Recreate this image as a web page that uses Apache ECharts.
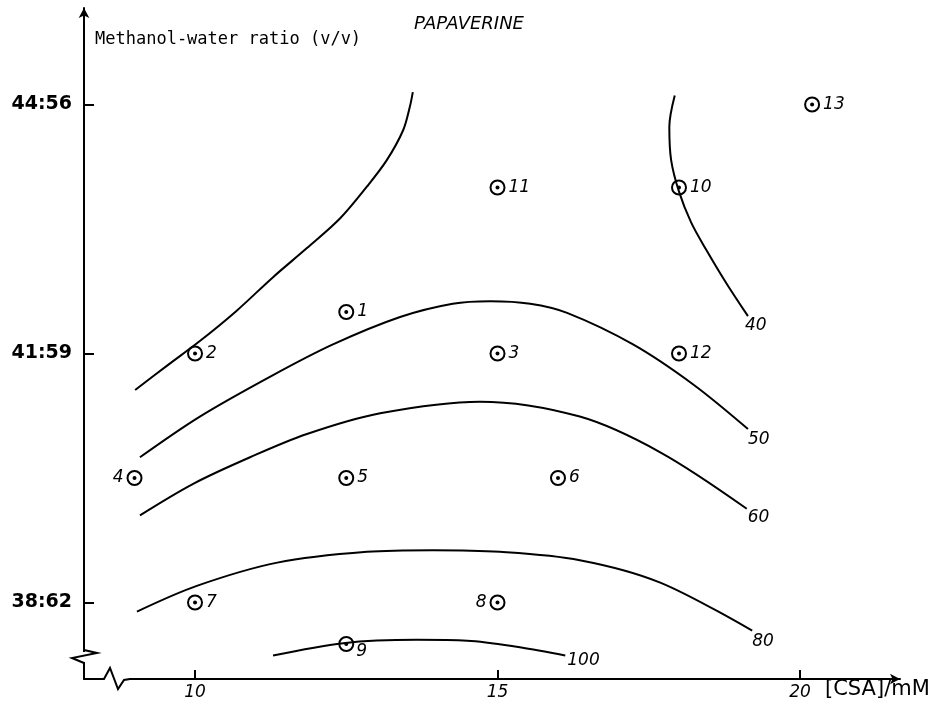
<!DOCTYPE html>
<html>
<head>
<meta charset="utf-8">
<script src="https://cdn.jsdelivr.net/npm/echarts@6/dist/echarts.min.js"></script>
<style>
html,body{margin:0;padding:0;background:#fff;}
#chart{width:938px;height:711px;}
</style>
</head>
<body>
<div id="chart"></div>
<script>
// ---- data ----
const xTicks = [10, 15, 20];
const yTicks = [38, 41, 44];
const yTickLabels = {38: '38:62', 41: '41:59', 44: '44:56'};

const pointIds  = ['1','2','3','4','5','6','7','8','9','10','11','12','13'];
const pointCSA  = [12.5, 10, 15, 9, 12.5, 16, 10, 15, 12.5, 18, 15, 18, 20.2];
const pointMeOH = [41.5, 41, 41, 39.5, 39.5, 39.5, 38, 38, 37.5, 43, 43, 41, 44];

// contour curves (x = [CSA]/mM, y = methanol %)
const c40aX = [9.01, 9.55, 10.08, 10.68, 11.29, 11.85, 12.40, 12.84, 13.17, 13.44, 13.55, 13.60];
const c40aY = [40.56, 40.86, 41.15, 41.51, 41.92, 42.27, 42.63, 43.01, 43.33, 43.69, 43.97, 44.15];

const c40bX = [17.93, 17.84, 17.87, 18.00, 18.20, 18.45, 18.78, 19.14];
const c40bY = [44.11, 43.73, 43.33, 42.95, 42.58, 42.25, 41.85, 41.45];

const c50X = [9.09, 10.08, 11.29, 12.28, 13.39, 14.26, 14.88, 15.54, 16.15, 17.24, 18.23, 19.14];
const c50Y = [39.75, 40.24, 40.74, 41.11, 41.44, 41.60, 41.63, 41.60, 41.49, 41.11, 40.63, 40.09];

const c60X = [9.09, 9.97, 10.91, 11.85, 13.06, 14.71, 16.36, 17.69, 19.12];
const c60Y = [39.05, 39.43, 39.75, 40.03, 40.28, 40.42, 40.24, 39.81, 39.13];

const c80X = [9.04, 10.03, 11.36, 12.84, 13.93, 15.04, 16.36, 17.69, 19.21];
const c80Y = [37.89, 38.20, 38.48, 38.61, 38.63, 38.61, 38.51, 38.24, 37.66];

const c100X = [11.29, 12.45, 13.67, 14.50, 15.37, 16.12];
const c100Y = [37.36, 37.51, 37.55, 37.54, 37.46, 37.36];

const contourLabels = ['', '40', '50', '60', '80', '100'];

// ---- styles ----
const labelOffsets = [null, [-8, 9], [-5, 11], [-4, 9], [-5, 11], [-3, 5]];
const leftLabelIds = ['4', '8'];

const chart = echarts.init(document.getElementById('chart'), null, {renderer: 'canvas'});

const contours = [[c40aX, c40aY], [c40bX, c40bY], [c50X, c50Y], [c60X, c60Y], [c80X, c80Y], [c100X, c100Y]];
const numFont = 'DejaVu Sans';

const lineSeries = contours.map((c, i) => ({
  type: 'line',
  name: contourLabels[i] || '40',
  data: c[0].map((x, j) => [x, c[1][j]]),
  smooth: 0.33,
  symbol: 'none',
  silent: true,
  lineStyle: {color: '#000', width: 2},
  endLabel: contourLabels[i] ? {
    show: true,
    formatter: contourLabels[i],
    offset: labelOffsets[i],
    color: '#000',
    fontFamily: numFont,
    fontStyle: 'italic',
    fontSize: 17,
    distance: 5
  } : {show: false},
  z: 2
}));

const pointData = pointIds.map((id, i) => {
  const left = leftLabelIds.includes(id);
  const d = {name: id, value: [pointCSA[i], pointMeOH[i]]};
  d.label = {position: left ? 'left' : 'right'};
  if (id === '9') d.label.offset = [-1, 8];
  return d;
});

const option = {
  animation: false,
  backgroundColor: '#fff',
  title: {
    text: 'PAPAVERINE',
    left: 409,
    top: 10,
    textStyle: {fontFamily: numFont, fontStyle: 'italic', fontWeight: 'normal', fontSize: 18, color: '#000'}
  },
  grid: {left: 84, right: 38, top: 8, bottom: 32, containLabel: false},
  xAxis: {
    type: 'value',
    min: 8.165,
    max: 21.653,
    name: '[CSA]/mM',
    nameLocation: 'end',
    nameGap: -75,
    nameTextStyle: {fontFamily: 'DejaVu Sans', fontSize: 21, color: '#000', align: 'left', verticalAlign: 'top', padding: [0, 0, 0, 0]},
    axisLine: {onZero: false, lineStyle: {color: '#000', width: 2}, symbol: ['none', 'arrow'], symbolSize: [8, 10]},
    axisTick: {show: true, inside: true, length: 9, customValues: xTicks, lineStyle: {color: '#000', width: 2}},
    axisLabel: {customValues: xTicks, margin: 5, color: '#000', fontFamily: numFont, fontStyle: 'italic', fontSize: 17},
    splitLine: {show: false}
  },
  yAxis: {
    type: 'value',
    min: 37.078,
    max: 45.163,
    name: 'Methanol-water ratio (v/v)',
    nameLocation: 'end',
    nameGap: -32,
    nameTextStyle: {fontFamily: 'DejaVu Sans Mono', fontSize: 17, color: '#000', align: 'left', verticalAlign: 'middle', padding: [0, 0, 0, 11]},
    axisLine: {onZero: false, lineStyle: {color: '#000', width: 2}, symbol: ['none', 'arrow'], symbolSize: [8, 10]},
    axisTick: {show: true, inside: true, length: 10, customValues: yTicks, lineStyle: {color: '#000', width: 2}},
    axisLabel: {
      customValues: yTicks,
      margin: 12,
      color: '#000',
      fontFamily: 'DejaVu Sans',
      fontWeight: 'bold',
      fontSize: 19,
      formatter: v => yTickLabels[Math.round(v)] || ''
    },
    splitLine: {show: false}
  },
  series: lineSeries.concat([
    {
      type: 'scatter',
      data: pointData,
      symbol: 'circle',
      symbolSize: 14,
      itemStyle: {color: 'rgba(0,0,0,0)', borderColor: '#000', borderWidth: 2, opacity: 1},
      label: {
        show: true,
        formatter: p => p.name,
        distance: 3,
        color: '#000',
        fontFamily: numFont,
        fontStyle: 'italic',
        fontSize: 17
      },
      z: 3
    },
    {
      type: 'scatter',
      data: pointCSA.map((x, i) => [x, pointMeOH[i]]),
      symbol: 'circle',
      symbolSize: 4,
      itemStyle: {color: '#000', opacity: 1},
      silent: true,
      z: 4
    }
  ]),
  graphic: [
    {type: 'rect', shape: {x: 80, y: 652, width: 8, height: 10}, style: {fill: '#fff'}, z: 100},
    {type: 'polyline', shape: {points: [[84, 650], [97, 653], [72, 658], [84, 663]]}, style: {stroke: '#000', lineWidth: 2, fill: null}, z: 101},
    {type: 'rect', shape: {x: 101, y: 676, width: 28, height: 6}, style: {fill: '#fff'}, z: 100},
    {type: 'polyline', shape: {points: [[100, 679], [104, 679], [110, 668], [118, 689], [124, 680], [130, 679]]}, style: {stroke: '#000', lineWidth: 2, fill: null}, z: 101}
  ]
};

chart.setOption(option);
</script>
</body>
</html>
